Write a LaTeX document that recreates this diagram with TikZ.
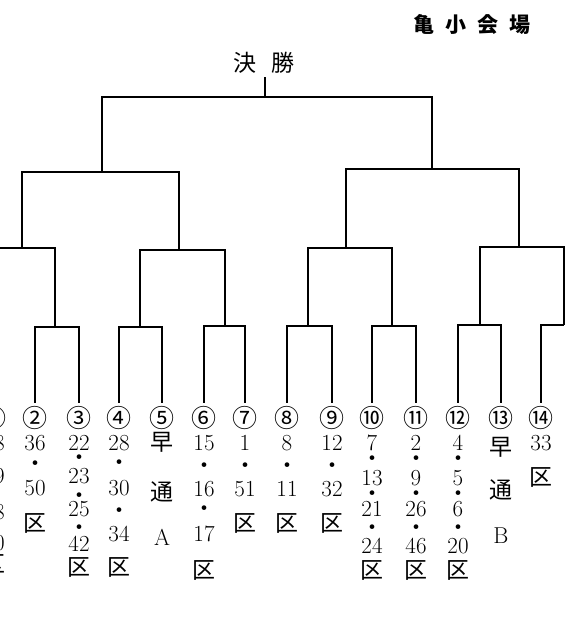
\documentclass[tikz,border=0pt]{standalone}
\usepackage{fontspec}
\usepackage{tikz}
\usetikzlibrary{positioning}

\newfontfamily\cjk{Noto Sans CJK JP}
\newcommand{\ku}{{\cjk\fontsize{23}{24}\selectfont 区}}
\newcommand{\dotmark}{{\cjk\fontsize{22}{24}\selectfont ・}}
\newcommand{\hayatsu}[1]{{\cjk\fontsize{23}{24}\selectfont #1}}

\begin{document}
\begin{tikzpicture}[x=1pt, y=-1pt,
        bracket/.style={line width=1.8pt},
        entry/.style={inner sep=0pt, text height=16pt, text depth=0pt, font=\fontsize{23}{24}\selectfont},
        seed/.style={inner sep=0pt, minimum height=30pt, font=\cjk\fontsize{25}{26}\selectfont}]
        \useasboundingbox (0,0) rectangle (567,634);
        \clip (0,0) rectangle (567,634);

        % seeds
        \node[seed] (t1) at (-6,418) {①};
        \node[seed] (t2) at (35,418) {②};
        \node[seed] (t3) at (79,418) {③};
        \node[seed] (t4) at (119,418) {④};
        \node[seed] (t5) at (162,418) {⑤};
        \node[seed] (t6) at (204,418) {⑥};
        \node[seed] (t7) at (245,418) {⑦};
        \node[seed] (t8) at (287,418) {⑧};
        \node[seed] (t9) at (332,418) {⑨};
        \node[seed] (t10) at (372,418) {⑩};
        \node[seed] (t11) at (416,418) {⑪};
        \node[seed] (t12) at (458,418) {⑫};
        \node[seed] (t13) at (501,418) {⑬};
        \node[seed] (t14) at (541,418) {⑭};

        % junctions
        \coordinate (q1) at (-11,327);
        \coordinate (q2) at (55,327);
        \coordinate (q3) at (140,327);
        \coordinate (q4) at (225,326);
        \coordinate (q5) at (308,326);
        \coordinate (q6) at (392,326);
        \coordinate (q7) at (480,325);
        \coordinate (q8) at (564,325);
        \coordinate (r1) at (22,248);
        \coordinate (r2) at (179,250);
        \coordinate (r3) at (346,248);
        \coordinate (r4) at (519,247);
        \coordinate (s1) at (102,172);
        \coordinate (s2) at (432,169);
        \coordinate (f) at (265,97);

        \node[above=20pt of f, xshift=-1pt, inner sep=0pt, outer sep=4pt, font=\cjk\fontsize{23}{24}\selectfont] (win) {決\hspace{15pt}勝};
        \node[font=\cjk\bfseries\fontsize{21}{24}\selectfont] (venue) at (472,25) {亀\hspace{11pt}小\hspace{11pt}会\hspace{11pt}場};

        \foreach \a/\m/\b in {t2/q2/t3, t4/q3/t5, t6/q4/t7, t8/q5/t9, t10/q6/t11, t12/q7/t13} {
                \draw[bracket] (\a.north) |- (\m) -| (\b.north);
        }
        \draw[bracket] (t1.north) |- (q1);
        \draw[bracket] (t14.north) |- (q8);
        \foreach \a/\m/\b in {q1/r1/q2, q3/r2/q4, q5/r3/q6, q7/r4/q8, r1/s1/r2, r3/s2/r4, s1/f/s2} {
                \draw[bracket] (\a) |- (\m) -| (\b);
        }
        \draw[bracket] (f) -- (f |- win.south);

        % team lists
        \foreach \y/\s [count=\k] in {442/18, 458/\dotmark, 475/29, 494/\dotmark, 511/38, 527/\dotmark, 542/40, 564/\ku}
                \node[entry] (n1-\k) at (-6,\y) {\s};
        \foreach \y/\s [count=\k] in {442/36, 463/\dotmark, 487/50, 523/\ku}
                \node[entry] (n2-\k) at (35,\y) {\s};
        \foreach \y/\s [count=\k] in {442/22, 457/\dotmark, 475/23, 495/\dotmark, 508/25, 527/\dotmark, 543/42, 567/\ku}
                \node[entry] (n3-\k) at (79,\y) {\s};
        \foreach \y/\s [count=\k] in {442/28, 462/\dotmark, 487/30, 510/\dotmark, 533/34, 567/\ku}
                \node[entry] (n4-\k) at (119,\y) {\s};
        \foreach \y/\s [count=\k] in {442/\hayatsu{早}, 492/\hayatsu{通}, 537/A}
                \node[entry] (n5-\k) at (162,\y) {\s};
        \foreach \y/\s [count=\k] in {442/15, 465/\dotmark, 488/16, 508/\dotmark, 533/17, 570/\ku}
                \node[entry] (n6-\k) at (204,\y) {\s};
        \foreach \y/\s [count=\k] in {442/1, 465/\dotmark, 488/51, 523/\ku}
                \node[entry] (n7-\k) at (245,\y) {\s};
        \foreach \y/\s [count=\k] in {442/8, 465/\dotmark, 488/11, 523/\ku}
                \node[entry] (n8-\k) at (287,\y) {\s};
        \foreach \y/\s [count=\k] in {442/12, 465/\dotmark, 488/32, 523/\ku}
                \node[entry] (n9-\k) at (332,\y) {\s};
        \foreach \y/\s [count=\k] in {442/7, 458/\dotmark, 477/13, 493/\dotmark, 508/21, 527/\dotmark, 545/24, 570/\ku}
                \node[entry] (n10-\k) at (372,\y) {\s};
        \foreach \y/\s [count=\k] in {442/2, 458/\dotmark, 477/9, 493/\dotmark, 508/26, 527/\dotmark, 545/46, 570/\ku}
                \node[entry] (n11-\k) at (416,\y) {\s};
        \foreach \y/\s [count=\k] in {442/4, 458/\dotmark, 477/5, 493/\dotmark, 508/6, 527/\dotmark, 545/20, 570/\ku}
                \node[entry] (n12-\k) at (458,\y) {\s};
        \foreach \y/\s [count=\k] in {447/\hayatsu{早}, 490/\hayatsu{通}, 535/B}
                \node[entry] (n13-\k) at (501,\y) {\s};
        \foreach \y/\s [count=\k] in {442/33, 477/\ku}
                \node[entry] (n14-\k) at (541,\y) {\s};
\end{tikzpicture}
\end{document}
